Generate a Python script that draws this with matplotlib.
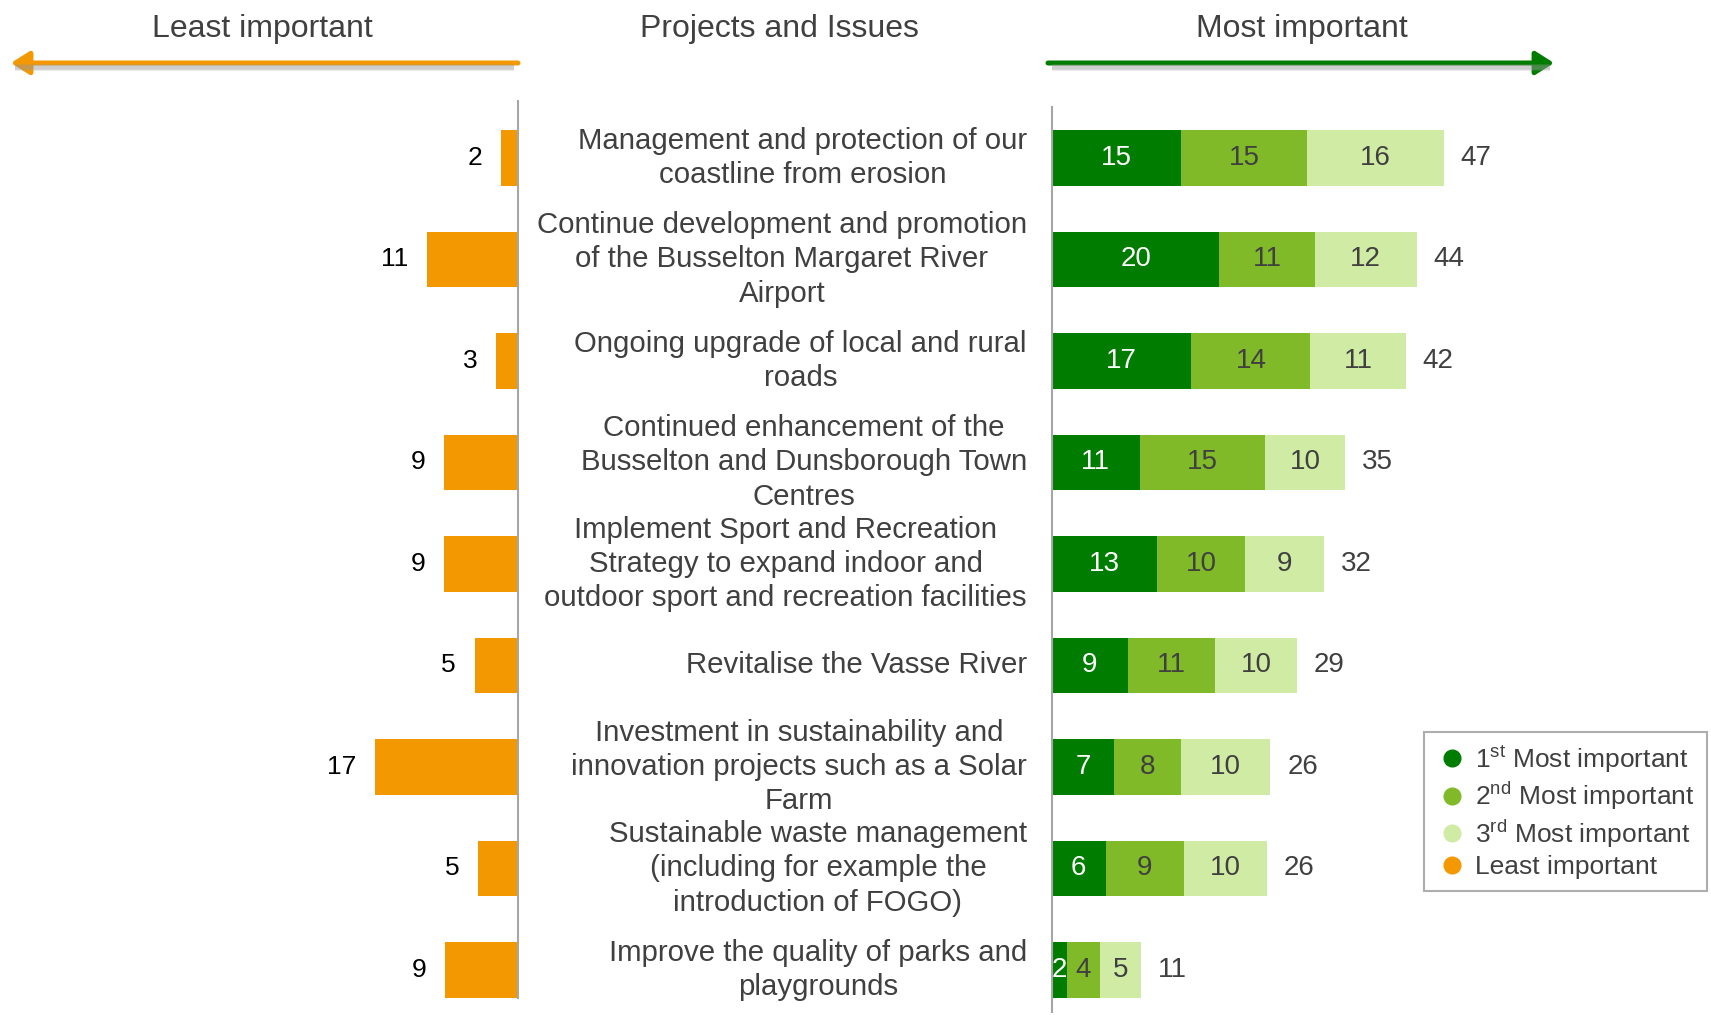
import matplotlib
matplotlib.use("Agg")
import matplotlib.pyplot as plt
import matplotlib.transforms as mtransforms
from matplotlib.lines import Line2D
from matplotlib.patches import FancyArrowPatch

plt.rcParams['font.family'] = ['Liberation Sans', 'DejaVu Sans']
plt.rcParams['mathtext.fontset'] = 'custom'
plt.rcParams['mathtext.rm'] = 'Liberation Sans'
plt.rcParams['mathtext.it'] = 'Liberation Sans:italic'
plt.rcParams['mathtext.bf'] = 'Liberation Sans:bold'

# ---------------- data ----------------
projects = [
    "Management and protection of our\ncoastline from erosion",
    "Continue development and promotion\nof the Busselton Margaret River\nAirport",
    "Ongoing upgrade of local and rural\nroads",
    "Continued enhancement of the\nBusselton and Dunsborough Town\nCentres",
    "Implement Sport and Recreation\nStrategy to expand indoor and\noutdoor sport and recreation facilities",
    "Revitalise the Vasse River",
    "Investment in sustainability and\ninnovation projects such as a Solar\nFarm",
    "Sustainable waste management\n(including for example the\nintroduction of FOGO)",
    "Improve the quality of parks and\nplaygrounds",
]
# bar lengths
least = [2.0, 10.7, 2.6, 8.7, 8.7, 5.1, 16.8, 4.7, 8.6]
first = [15.2, 19.7, 16.4, 10.3, 12.4, 8.9, 7.3, 6.3, 1.8]
second = [14.8, 11.2, 14.0, 14.8, 10.3, 10.3, 7.9, 9.2, 3.8]
third = [16.1, 12.0, 11.2, 9.4, 9.3, 9.6, 10.5, 9.8, 4.9]
# printed labels
least_labels = [2, 11, 3, 9, 9, 5, 17, 5, 9]
first_labels = [15, 20, 17, 11, 13, 9, 7, 6, 2]
second_labels = [15, 11, 14, 15, 10, 11, 8, 9, 4]
third_labels = [16, 12, 11, 10, 9, 10, 10, 10, 5]
total_labels = [47, 44, 42, 35, 32, 29, 26, 26, 11]

series_labels = ["1$^{\\mathrm{st}}$ Most important", "2$^{\\mathrm{nd}}$ Most important",
                 "3$^{\\mathrm{rd}}$ Most important", "Least important"]

C1, C2, C3, CO = "#007D00", "#80BA28", "#D0EBA4", "#F39800"
TXT = "#404040"
AX = "#A6A6A6"

W, H = 1711, 1015
fig = plt.figure(figsize=(W / 100, H / 100), dpi=100)

def fx(px):
    return px / W

def fy(py):
    return 1 - py / H

top_px, bot_px = 100, 1012
ylim = (8.414, -0.571)
ypos = list(range(len(projects)))
bh = 0.55

# left axes (least important)
axL = fig.add_axes([0, fy(bot_px), fx(518), (bot_px - top_px) / H])
axL.barh(ypos, least, height=bh, color=CO)
axL.set_xlim(518 / 8.5, 0)
axL.set_ylim(*ylim)
for y, v, lab in zip(ypos, least, least_labels):
    axL.text(v + 2.2, y, str(lab), ha='right', va='center', fontsize=19, color='black')
for s in ['left', 'top', 'bottom']:
    axL.spines[s].set_visible(False)
axL.spines['right'].set_color(AX)
axL.spines['right'].set_linewidth(1.5)
axL.spines['right'].set_bounds(-0.56, 8.28)
axL.set_xticks([]); axL.set_yticks([])
axL.patch.set_alpha(0)

# right axes (most important)
axR = fig.add_axes([fx(1052), fy(bot_px), fx(W - 1052), (bot_px - top_px) / H])
axR.set_xlim(0, (W - 1052) / 8.5)
axR.set_ylim(*ylim)
axR.barh(ypos, first, height=bh, color=C1)
left2 = first
axR.barh(ypos, second, left=left2, height=bh, color=C2)
left3 = [a + b for a, b in zip(first, second)]
axR.barh(ypos, third, left=left3, height=bh, color=C3)
for y in ypos:
    a, b, c = first[y], second[y], third[y]
    axR.text(a / 2, y, str(first_labels[y]), ha='center', va='center', fontsize=20, color='white')
    axR.text(a + b / 2, y, str(second_labels[y]), ha='center', va='center', fontsize=20, color=TXT)
    axR.text(a + b + c / 2, y, str(third_labels[y]), ha='center', va='center', fontsize=20, color=TXT)
    axR.text(a + b + c + 2.0, y, str(total_labels[y]), ha='left', va='center', fontsize=20, color=TXT)
for s in ['right', 'top', 'bottom']:
    axR.spines[s].set_visible(False)
axR.spines['left'].set_color(AX)
axR.spines['left'].set_linewidth(1.5)
axR.spines['left'].set_bounds(-0.50, 8.414)
axR.set_xticks([]); axR.set_yticks([])
axR.patch.set_alpha(0)

# project labels
tr = mtransforms.blended_transform_factory(fig.transFigure, axR.transData)
for y, lab in zip(ypos, projects):
    fig.text(fx(1027), y, lab, transform=tr, ha='right', va='center',
             multialignment='center', fontsize=21.2, color=TXT, linespacing=1.29)

# headers
fig.text(fx(262), fy(29), "Least important", ha='center', va='center', fontsize=23, color=TXT)
fig.text(fx(779), fy(29), "Projects and Issues", ha='center', va='center', fontsize=23, color=TXT)
fig.text(fx(1302), fy(29), "Most important", ha='center', va='center', fontsize=23, color=TXT)

# arrows with soft shadow
def arrow(x0, x1, y, color):
    for off, a in [(5, 0.25), (4, 0.3)]:
        fig.add_artist(Line2D([fx(min(x0, x1) + 4), fx(max(x0, x1) - 4)], [fy(y + off), fy(y + off)],
                              transform=fig.transFigure, color='#999999', lw=4, alpha=a,
                              solid_capstyle='butt'))
    fig.add_artist(FancyArrowPatch(
        (fx(x0), fy(y)), (fx(x1), fy(y)), transform=fig.transFigure,
        arrowstyle='-|>,head_length=0.55,head_width=0.35', mutation_scale=20,
        color=color, lw=3.6, shrinkA=0, shrinkB=0))

arrow(518, 11, 63, CO)
arrow(1048, 1554, 63, C1)

# legend
handles = [Line2D([], [], marker='o', linestyle='none', markersize=12, color=c)
           for c in [C1, C2, C3, CO]]
leg = fig.legend(handles, series_labels, loc='upper left',
                 bbox_to_anchor=(fx(1424), fy(732)), bbox_transform=fig.transFigure,
                 frameon=True, fancybox=False, fontsize=19, handletextpad=0.3,
                 labelspacing=0.2, borderpad=0.45, borderaxespad=0, handlelength=1.2,
                 labelcolor=TXT)
leg.get_frame().set_edgecolor('#9A9A9A')
leg.get_frame().set_linewidth(1.5)

fig.savefig("out.png", dpi=100)
